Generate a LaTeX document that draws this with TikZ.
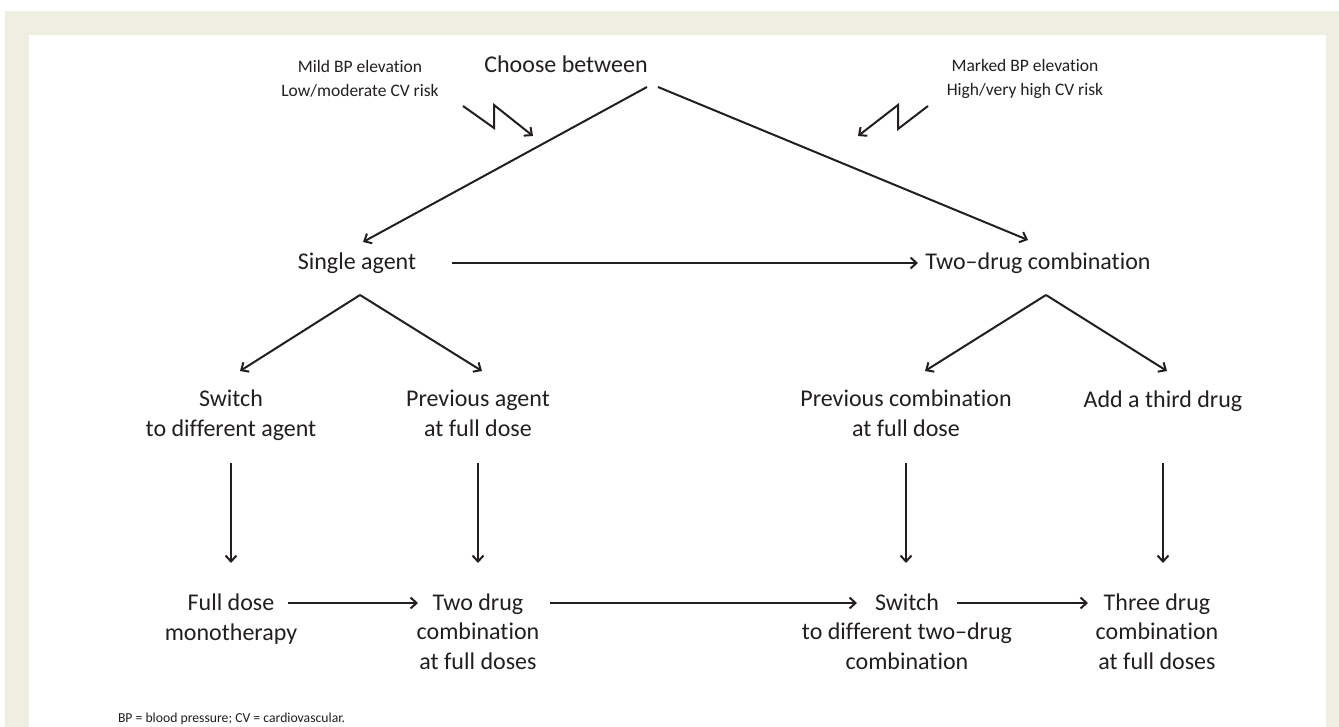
\documentclass[tikz,border=0pt]{standalone}
\usepackage{fontspec}
\setmainfont{Carlito}[Ligatures={TeX,NoCommon}]
\usetikzlibrary{arrows.meta}
\definecolor{framegray}{RGB}{238,238,226}
\definecolor{inkgray}{RGB}{35,31,32}

\begin{document}
\begin{tikzpicture}[x=1pt, y=-1pt, every node/.style={inner sep=0pt, outer sep=0pt, align=center, anchor=base, text=inkgray}, main/.style={font=\fontsize{24}{29.5}\selectfont}, side/.style={font=\fontsize{17.5}{24}\selectfont}, link/.style={draw=inkgray, line width=2pt, -{Straight Barb[length=6pt, width=11pt]}}, line join=miter]
        \useasboundingbox (0, 0) rectangle (1339, 727);
        \fill[framegray] (5, 11) rectangle (1339, 727);
        \fill[white] (29, 35) rectangle (1326, 727);

        \node[main] (choose) at (566, 73) {Choose between};
        \node[side] (mild) at (360, 97) {Mild BP elevation\\Low/moderate CV risk};
        \node[side] (marked) at (1025, 96) {Marked BP elevation\\High/very high CV risk};
        \node[main] (single) at (357, 270) {Single agent};
        \node[main] (twodrug) at (1038, 270) {Two--drug combination};
        \node[main] (switchA) at (231, 436) {Switch\\to different agent};
        \node[main] (prevA) at (478, 436) {Previous agent\\at full dose};
        \node[main] (prevC) at (906, 436) {Previous combination\\at full dose};
        \node[main] (third) at (1163, 407) {Add a third drug};
        \node[main] (fulldose) at (231, 640) {Full dose\\monotherapy};
        \node[main] (twofull) at (478, 669) {Two drug\\combination\\at full doses};
        \node[main] (switchB) at (907, 669) {Switch\\to different two--drug\\combination};
        \node[main] (threefull) at (1157, 669) {Three drug\\combination\\at full doses};
        \node[font=\fontsize{13.7}{16}\selectfont, anchor=base west] (note) at (118, 722) {BP = blood pressure; CV = cardiovascular.};

        \coordinate (mildbolt) at (463, 106);
        \coordinate (markedbolt) at (928, 106);
        \draw[link] (mildbolt) -- ++(31, 22) -- ++(0, -23) -- ++(39, 31);
        \draw[link] (markedbolt) -- ++(-30, 23) -- ++(0, -24) -- ++(-40, 31);

        \draw[link] ([xshift=81pt, yshift=-14pt]choose.base) -- ([xshift=6pt, yshift=28pt]single.base);
        \draw[link] ([xshift=92pt, yshift=-14pt]choose.base) -- ([xshift=-10pt, yshift=30pt]twodrug.base);
        \draw[link] ([xshift=95pt, yshift=7pt]single.base) -- ([xshift=-120pt, yshift=7pt]twodrug.base);

        \coordinate (singlefork) at ([xshift=3pt, yshift=-25pt]single.base);
        \coordinate (twofork) at ([xshift=8pt, yshift=-25pt]twodrug.base);
        \draw[link] (singlefork) -- ([xshift=9pt, yshift=65pt]switchA.base);
        \draw[link] (singlefork) -- ([xshift=4pt, yshift=65pt]prevA.base);
        \draw[link] (twofork) -- ([xshift=19pt, yshift=65pt]prevC.base);
        \draw[link] (twofork) -- ([xshift=4pt, yshift=36pt]third.base);

        \draw[link] ([yshift=-27pt]switchA.base) -- ([yshift=-127pt]switchA.base);
        \draw[link] ([yshift=-27pt]prevA.base) -- ([yshift=-127pt]prevA.base);
        \draw[link] ([yshift=-27pt]prevC.base) -- ([yshift=-127pt]prevC.base);
        \draw[link] ([yshift=-56pt]third.base) -- ([yshift=-156pt]third.base);

        \draw[link] ([xshift=57pt, yshift=37pt]fulldose.base) -- ([xshift=-60pt, yshift=66pt]twofull.base);
        \draw[link] ([xshift=72pt, yshift=66pt]twofull.base) -- ([xshift=-50pt, yshift=66pt]switchB.base);
        \draw[link] ([xshift=50pt, yshift=66pt]switchB.base) -- ([xshift=-69pt, yshift=66pt]threefull.base);
    \end{tikzpicture}
\end{document}
